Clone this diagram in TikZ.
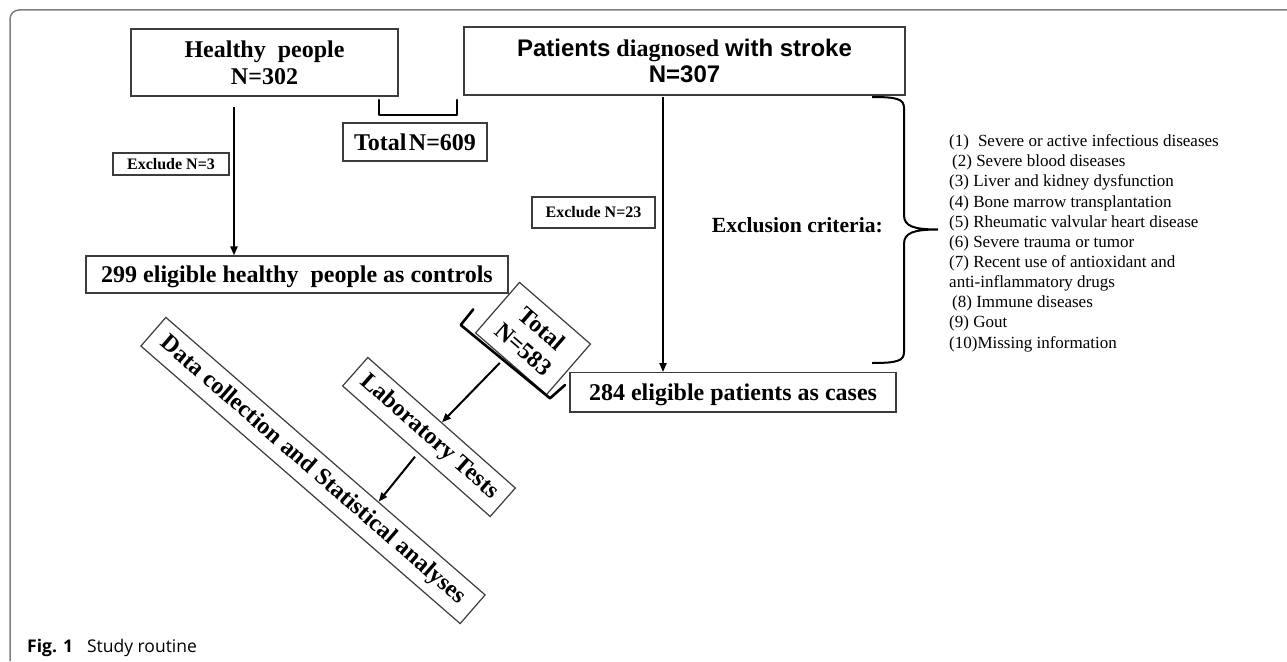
\documentclass[tikz,border=0pt]{standalone}
\usepackage{fontspec}
\setmainfont{Liberation Serif}
\newfontfamily\arialf{Liberation Sans}
\newfontfamily\capf{Open Sans}
\usetikzlibrary{arrows.meta,calc}
\definecolor{boxc}{HTML}{3C3C3C}
\definecolor{framec}{HTML}{808080}
\begin{document}
\begin{tikzpicture}[x=1pt,y=-1pt,
  box/.style={draw=boxc,line width=1.2pt,fill=white,inner sep=0pt},
  big/.style={font=\fontsize{24}{27.3}\selectfont\bfseries},
  small/.style={font=\fontsize{16}{18}\selectfont\bfseries},
  arr/.style={line width=2pt,-{Triangle[length=9pt,width=7pt]}},
  brk/.style={line width=2.6pt,line join=round,line cap=round},
  item/.style={anchor=base west,inner sep=0pt,font=\fontsize{17}{20}\selectfont}]
\useasboundingbox (0,0) rectangle (1287,661);
\fill[white] (0,0) rectangle (1287,661);
% frame
\draw[framec,line width=1.5pt,rounded corners=9pt] (10,661) -- (10,10) -- (1287,10);

% top boxes
\node[box,big,minimum width=267pt,minimum height=67pt,align=center] (healthy) at (264.5,62.5) {Healthy\ \ people\\N=302};
\node[box,minimum width=441pt,minimum height=68pt,align=center,font=\fontsize{24}{26.7}\selectfont\bfseries] (patients) at (684.5,61) {{\arialf Patients} diagnosed {\arialf with stroke}\\{\arialf N=307}};

% total 609
\draw[brk] (379,100) -- (379,115) -- (457,115) -- (457,100);
\node[box,big,minimum width=144pt,minimum height=38pt,text height=16.4pt,text depth=0pt] (total) at (415,142) {Total\hspace{2.5pt}N=609};

% exclusion boxes
\node[box,small,minimum width=116pt,minimum height=22pt] (ex1) at (171,164) {Exclude N=3};
\node[box,small,minimum width=123pt,minimum height=31pt] (ex2) at (593.5,212.5) {Exclude N=23};

% eligible boxes
\node[box,big,minimum width=422pt,minimum height=37pt,text height=16.4pt,text depth=0pt] (ctrl) at (297,274.5) {299 eligible healthy\ \ people as controls};
\node[box,big,minimum width=326pt,minimum height=39.3pt,text height=16.4pt,text depth=0pt] (cases) at (733,392.3) {284 eligible patients as cases};

% rotated boxes
\node[box,big,rotate=-41,minimum width=94pt,minimum height=67pt,align=center] (tot2) at (533,338.5) {Total\\N=583};
\draw[brk] (473.3,309.3) -- (460.7,325) -- (550,398.3) -- (565,385);
\node[box,big,rotate=-41.5,minimum width=197pt,minimum height=38pt] (lab) at (429,437) {Laboratory Tests};
\node[box,big,rotate=-41,minimum width=423pt,minimum height=38pt] (data) at (313,470.5) {Data collection and Statistical analyses};

% arrows
\coordinate (a1s) at (234,107);
\draw[arr] (a1s) -- (a1s |- ctrl.north);
\coordinate (a2s) at (663,97);
\draw[arr] (a2s) -- (a2s |- cases.north);
\draw[arr] ([shift={(0,8)}]$(tot2.south west)!0.35!(tot2.south east)$) -- (lab.north);
\draw[arr] ([shift={(-1,5)}]lab.south) -- ($(data.north west)!0.665!(data.north east)$);

% brace and exclusion criteria
\draw[line width=2pt] (872,97) .. controls (897,97) and (904,99) .. (904,108) -- (904,215)
  .. controls (904,226) and (913,229.5) .. (938,229.5)
  .. controls (913,229.5) and (904,233) .. (904,244) -- (904,352)
  .. controls (904,361) and (897,363) .. (872,363);
\node[anchor=base east,inner sep=0pt,font=\fontsize{21.6}{24}\selectfont\bfseries] (excl) at (883,232.7) {Exclusion criteria:};
\foreach \t [count=\i] in {{(1)\hspace{9pt}Severe or active infectious diseases},
  {\hspace{3pt}(2) Severe blood diseases},
  {(3) Liver and kidney dysfunction},
  {(4) Bone marrow transplantation},
  {(5) Rheumatic valvular heart disease},
  {(6) Severe trauma or tumor},
  {(7) Recent use of antioxidant and},
  {anti-inflammatory drugs},
  {\hspace{3pt}(8) Immune diseases},
  {(9) Gout},
  {(10)Missing information}}
  \node[item] (it\i) at (949,{146.7+20.13*(\i-1)}) {\t};

% caption
\node[anchor=base west,inner sep=0pt,font=\fontsize{17.5}{20}\selectfont\capf] (cap) at (27,652.7) {\textbf{Fig. 1}\hspace{14pt}Study routine};
\end{tikzpicture}
\end{document}
